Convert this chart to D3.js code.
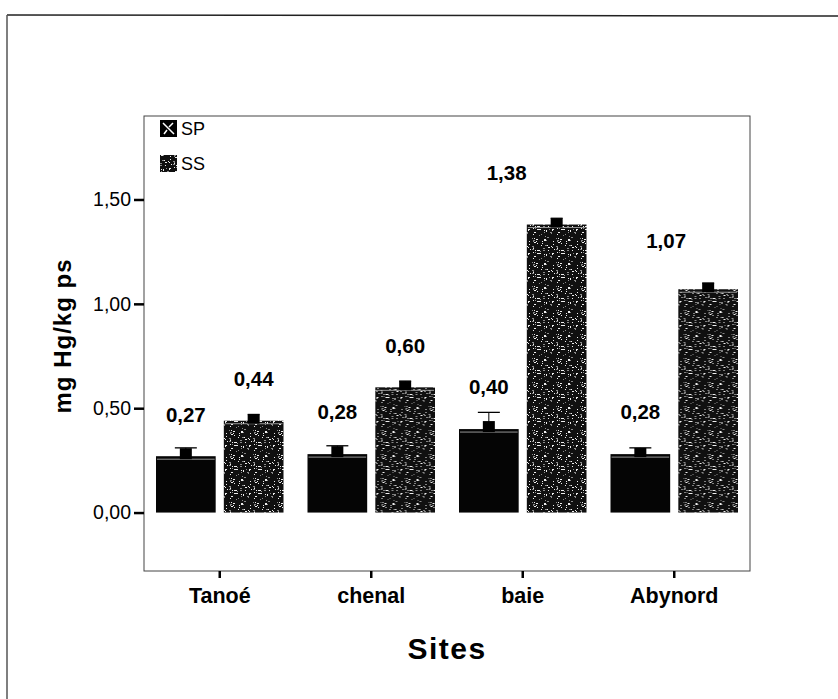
<!DOCTYPE html>
<html>
<head>
<meta charset="utf-8">
<script src="https://cdn.jsdelivr.net/npm/d3@7"></script>
<style>
  html, body { margin: 0; padding: 0; background: #fff; }
  svg { display: block; }
  text { font-family: "Liberation Sans", Arial, sans-serif; fill: #000; }
</style>
</head>
<body>
<svg id="chart" width="838" height="699"></svg>
<script>
// ---- data ----
const sites = ["Tanoé", "chenal", "baie", "Abynord"];
const seriesNames = ["SP", "SS"];
const spValues = [0.27, 0.28, 0.40, 0.28];
const ssValues = [0.44, 0.60, 1.38, 1.07];
const spErrUpper = [0.31, 0.32, 0.48, 0.31];
const ssErrUpper = [0.47, 0.63, 1.41, 1.10];
const yTicks = [0.0, 0.5, 1.0, 1.5];
const yTickLabels = ["0,00", "0,50", "1,00", "1,50"];
const yTitle = "mg Hg/kg ps";
const xTitle = "Sites";

// ---- layout ----
const W = 838, H = 699;
const plot = { left: 144, right: 750, top: 116, bottom: 571 };
const FONT = "'Liberation Sans', Arial, sans-serif";
const svg = d3.select("#chart");

// speckle texture for SS (deterministic hash, purely decorative)
const defs = svg.append("defs");
const P = 24;
const ssPat = defs.append("pattern").attr("id", "ssPat")
  .attr("patternUnits", "userSpaceOnUse").attr("width", P).attr("height", P);
ssPat.append("rect").attr("width", P).attr("height", P).attr("fill", "#101010");
let seed = 7;
function hash() { seed = (seed * 1103515245 + 12345) % 2147483648; return seed / 2147483648; }
for (let k = 0; k < 55; k++) {
  const px = Math.floor(hash() * P), py = Math.floor(hash() * P);
  const sz = hash() < 0.3 ? 2 : 1;
  ssPat.append("rect").attr("x", px).attr("y", py).attr("width", sz).attr("height", 1)
    .attr("fill", hash() < 0.6 ? "#eeeeee" : "#8a8a8a");
}

// outer frame (top + left)
svg.append("line").attr("x1", 7).attr("y1", 15).attr("x2", W).attr("y2", 16)
  .attr("stroke", "#222").attr("stroke-width", 1.5);
svg.append("line").attr("x1", 7).attr("y1", 15).attr("x2", 7).attr("y2", H)
  .attr("stroke", "#555").attr("stroke-width", 1.5);

// scales
const x0 = d3.scaleBand().domain(sites).range([plot.left, plot.right]).paddingInner(0).paddingOuter(0);
const inset = 12;
const x1 = d3.scaleBand().domain(seriesNames).range([inset, x0.bandwidth() - inset]).paddingInner(0.12);
const y = d3.scaleLinear().domain([-0.28, 1.9]).range([plot.bottom, plot.top]);

// plot frame
svg.append("rect").attr("x", plot.left).attr("y", plot.top)
  .attr("width", plot.right - plot.left).attr("height", plot.bottom - plot.top)
  .attr("fill", "none").attr("stroke", "#444").attr("stroke-width", 1);

// data rows
const rows = sites.map((s, i) => ({
  site: s,
  bars: [
    { key: "SP", v: spValues[i], e: spErrUpper[i], site: s },
    { key: "SS", v: ssValues[i], e: ssErrUpper[i], site: s }
  ]
}));

const g = svg.append("g");
const groups = g.selectAll("g.grp").data(rows).join("g").attr("class", "grp")
  .attr("transform", d => `translate(${x0(d.site)},0)`);

groups.selectAll("rect.bar").data(d => d.bars).join("rect").attr("class", "bar")
  .attr("x", d => x1(d.key)).attr("width", x1.bandwidth())
  .attr("y", d => y(d.v)).attr("height", d => y(0) - y(d.v))
  .attr("fill", d => d.key === "SP" ? "#050505" : "url(#ssPat)");

// thin light line near top of bars
groups.selectAll("line.hl").data(d => d.bars).join("line").attr("class", "hl")
  .attr("x1", d => x1(d.key) + 1).attr("x2", d => x1(d.key) + x1.bandwidth() - 1)
  .attr("y1", d => y(d.v) + 3).attr("y2", d => y(d.v) + 3)
  .attr("stroke", "#bbb").attr("stroke-width", 0.8);

// error bars
const eb = groups.selectAll("g.eb").data(d => d.bars).join("g").attr("class", "eb")
  .attr("transform", d => `translate(${x1(d.key) + x1.bandwidth() / 2},0)`);
eb.append("line").attr("x1", 0).attr("x2", 0)
  .attr("y1", d => y(d.v)).attr("y2", d => y(d.e))
  .attr("stroke", "#000").attr("stroke-width", 1);
eb.append("rect").attr("x", -6).attr("width", 12)
  .attr("y", d => Math.max(y(d.e), y(d.v) - 8))
  .attr("height", d => y(d.v) - Math.max(y(d.e), y(d.v) - 8) + 3)
  .attr("fill", "#000");
eb.append("line")
  .attr("x1", d => d.key === "SP" ? -11 : -6).attr("x2", d => d.key === "SP" ? 11 : 6)
  .attr("y1", d => y(d.e)).attr("y2", d => y(d.e))
  .attr("stroke", "#000").attr("stroke-width", 1.3);

// value labels
const labelShift = { "baie-SS": [-50, -10], "Abynord-SS": [-42, -7] };
const sh = d => labelShift[d.site + "-" + d.key] || [0, 0];
groups.selectAll("text.val").data(d => d.bars).join("text").attr("class", "val")
  .attr("x", d => x1(d.key) + x1.bandwidth() / 2 + sh(d)[0])
  .attr("y", d => y(d.v) - 42 + sh(d)[1])
  .attr("dy", "0.36em")
  .attr("text-anchor", "middle")
  .style("font-size", "20.5px").style("font-weight", "bold")
  .text(d => d.v.toFixed(2).replace(".", ","));

// y axis
const yAxis = d3.axisLeft(y).tickValues(yTicks).tickSize(10).tickPadding(3)
  .tickFormat((d, i) => yTickLabels[i]);
const ya = svg.append("g").attr("transform", `translate(${plot.left},0)`).call(yAxis);
ya.select(".domain").remove();
ya.selectAll(".tick line").attr("stroke", "#000").attr("stroke-width", 2.5);
ya.selectAll(".tick text").style("font-size", "19.5px").attr("fill", "#000")
  .style("font-family", FONT);

// x axis
const xAxis = d3.axisBottom(x0).tickSize(7).tickPadding(10);
const xa = svg.append("g").attr("transform", `translate(0,${plot.bottom})`).call(xAxis);
xa.select(".domain").remove();
xa.selectAll(".tick line").attr("stroke", "#000").attr("stroke-width", 2.5);
xa.selectAll(".tick text").style("font-size", "21.5px").style("font-weight", "bold").attr("fill", "#000")
  .style("font-family", FONT);

// titles
svg.append("text").attr("transform", `translate(63,336) rotate(-90)`)
  .attr("text-anchor", "middle").attr("dy", "0.35em")
  .style("font-size", "24px").style("font-weight", "bold").style("letter-spacing", "1px").text(yTitle);
svg.append("text").attr("x", (plot.left + plot.right) / 2).attr("y", 648)
  .attr("text-anchor", "middle").attr("dy", "0.35em")
  .style("font-size", "30px").style("font-weight", "bold").style("letter-spacing", "1.5px").text(xTitle);

// legend
const legend = svg.append("g").attr("transform", `translate(160,120)`);
const leg = legend.selectAll("g").data(seriesNames).join("g")
  .attr("transform", (d, i) => `translate(0,${i * 35})`);
leg.append("rect").attr("width", 17).attr("height", 17)
  .attr("fill", d => d === "SP" ? "#000" : "url(#ssPat)");
leg.filter(d => d === "SP").append("path")
  .attr("d", "M3,3 L14,14 M13,3 L9,7 M7,10 L4,14")
  .attr("stroke", "#fff").attr("stroke-width", 1.5).attr("fill", "none");
leg.append("text").attr("x", 21).attr("y", 8.5).attr("dy", "0.36em")
  .style("font-size", "18px").text(d => d);
</script>
</body>
</html>
